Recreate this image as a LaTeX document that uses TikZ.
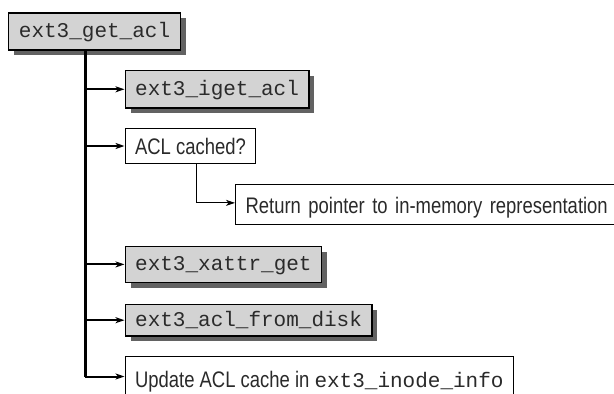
\documentclass[tikz,border=0pt]{standalone}
\usepackage{fontspec}
\newfontfamily\condsans{Liberation Sans}[FakeStretch=0.82]
\newfontfamily\monof{Liberation Mono}
\usetikzlibrary{arrows.meta,shadows}
\definecolor{boxgray}{HTML}{D3D3D3}
\definecolor{shadowgray}{HTML}{626262}
\definecolor{inkc}{HTML}{2A2A2A}
\begin{document}
\begin{tikzpicture}[x=1pt,y=-1pt,
  basebox/.style={draw=black, anchor=north west, inner xsep=10pt, inner ysep=0pt, text=inkc},
  gbox/.style={basebox, line width=1.3pt, fill=boxgray, font=\monof\fontsize{21}{25}\selectfont,
    text height=16pt, text depth=3pt,
    drop shadow={shadow xshift=5.5pt, shadow yshift=-5.5pt, opacity=1, fill=shadowgray}},
  wbox/.style={basebox, line width=1.1pt, fill=white, font=\condsans\fontsize{22.5}{26}\selectfont,
    text height=18.5pt, text depth=1.5pt},
  trunk/.style={line width=2.3pt, draw=black},
  branch/.style={line width=2pt, draw=black, -{Stealth[length=9pt,width=6pt,inset=2.5pt]}},
  subbranch/.style={line width=1pt, draw=black, -{Stealth[length=9pt,width=6pt,inset=2.5pt]}}
]
\path[use as bounding box, clip] (0,0) rectangle (614,394);

\node[gbox, minimum width=172.2pt, minimum height=37pt] (top) at (7.8,12.3) {ext3\_get\_acl};
\node[gbox, minimum width=183.3pt, minimum height=37.3pt] (iget) at (124.5,70) {ext3\_iget\_acl};
\node[wbox, minimum width=130pt, minimum height=35.3pt] (acl) at (124.5,127.8) {ACL cached?};
\node[wbox, text width=470pt, align=left, minimum height=40pt] (ret) at (235,184.3) {Return pointer to in-memory representation};
\node[gbox, minimum width=196.5pt, minimum height=36.5pt] (xattr) at (124.5,245.5) {ext3\_xattr\_get};
\node[gbox, minimum width=245.9pt, minimum height=31.5pt] (disk) at (124.5,303.8) {ext3\_acl\_from\_disk};
\node[wbox, minimum height=45pt] (upd) at (124.5,356) {Update ACL cache in {\monof\fontsize{21}{25}\selectfont ext3\_inode\_info}};

\coordinate (j) at (85.4,0);
\coordinate (k) at (196.6,0);
\coordinate (ua) at (85.4,376.5);

\draw[trunk] (top.south -| j) -- (ua);
\draw[branch] (iget.west -| j) -- (iget.west);
\draw[branch] (acl.west -| j) -- (acl.west);
\draw[branch] (xattr.west -| j) -- (xattr.west);
\draw[branch] (disk.west -| j) -- (disk.west);
\draw[branch] (ua) -- (ua -| upd.west);
\draw[subbranch] (acl.south -| k) |- ([yshift=2pt]ret.west);
\end{tikzpicture}
\end{document}
